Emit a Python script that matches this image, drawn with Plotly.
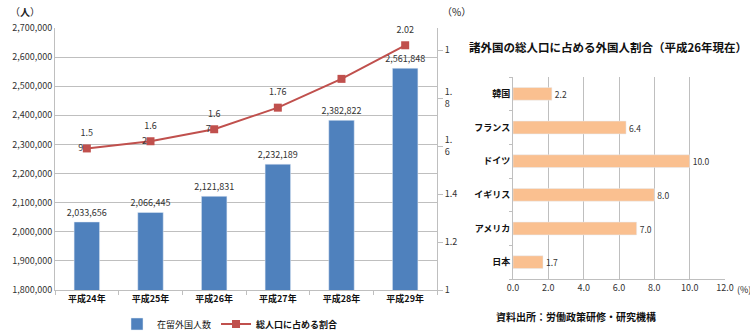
import plotly.graph_objects as go

years = ["平成24年", "平成25年", "平成26年", "平成27年", "平成28年", "平成29年"]
residents = [2033656, 2066445, 2121831, 2232189, 2382822, 2561848]
ratio = [1.59, 1.62, 1.67, 1.76, 1.88, 2.02]
ratio_top_labels = ["1.5", "1.6", "1.6", "1.76", "", "2.02"]
ratio_side_labels = ["9", "2", "7", "", "", ""]
left_ticks = [1800000 + 100000 * i for i in range(10)]
right_tickvals = [1.0, 1.2, 1.4, 1.6, 1.8, 2.0]
right_ticktext = ["1", "1.2", "1.4", "1.<br>6", "1.<br>8", "1"]

countries = ["韓国", "フランス", "ドイツ", "イギリス", "アメリカ", "日本"]
foreign_share = [2.2, 6.4, 10.0, 8.0, 7.0, 1.7]

FONT = "Noto Sans CJK JP"
BLUE = "#4F81BD"
RED = "#C0504D"
ORANGE = "#FAC090"
GRID = "#BFBFBF"

fig = go.Figure()

fig.add_trace(go.Bar(
    x=years, y=residents, name="在留外国人数", marker_color=BLUE, width=0.4,
    text=[f"{v:,}" for v in residents], textposition="outside", cliponaxis=False,
    constraintext="none",
    textfont=dict(size=9, color="#333333", family=FONT),
    xaxis="x", yaxis="y", showlegend=True))

fig.add_trace(go.Scatter(
    x=years, y=ratio, name="<b>総人口に占める割合</b>", mode="lines+markers",
    line=dict(color=RED, width=2), marker=dict(symbol="square", size=8, color=RED),
    xaxis="x", yaxis="y2", cliponaxis=False))

fig.add_trace(go.Scatter(
    x=years, y=ratio, mode="markers+text", text=ratio_side_labels,
    textposition="middle left", marker=dict(size=4, opacity=0),
    textfont=dict(size=9, color="#333333", family=FONT),
    xaxis="x", yaxis="y2", showlegend=False, hoverinfo="skip", cliponaxis=False))

fig.add_trace(go.Scatter(
    x=years, y=ratio, mode="markers+text", text=ratio_top_labels,
    textposition="top center", marker=dict(size=15, opacity=0),
    textfont=dict(size=9, color="#333333", family=FONT),
    xaxis="x", yaxis="y2", showlegend=False, hoverinfo="skip", cliponaxis=False))

fig.add_trace(go.Bar(
    x=foreign_share, y=countries, orientation="h", marker_color=ORANGE, width=0.38,
    text=[f"{v:.1f}" for v in foreign_share], textposition="outside", cliponaxis=False,
    constraintext="none",
    textfont=dict(size=8.5, color="#333333", family=FONT),
    xaxis="x3", yaxis="y3", showlegend=False))

fig.update_layout(
    width=750, height=331, margin=dict(l=0, r=0, t=0, b=0, autoexpand=False),
    paper_bgcolor="white", plot_bgcolor="white",
    font=dict(family=FONT, size=9, color="#222222"),
    xaxis=dict(domain=[55/750, 437/750], type="category",
               tickvals=years, ticktext=[f"<b>{y}</b>" for y in years],
               tickfont=dict(size=9, color="#111111"), showline=True, linecolor=GRID,
               ticks="outside", ticklen=4, tickcolor=GRID, tickson="boundaries",
               showgrid=False, automargin=False),
    yaxis=dict(domain=[41/331, 303/331], range=[1800000, 2700000],
               tickvals=left_ticks, tickformat=",d", showgrid=True, gridcolor=GRID,
               showline=True, linecolor=GRID, ticks="", tickfont=dict(size=9, color="#333333"),
               zeroline=False, automargin=False),
    yaxis2=dict(overlaying="y", side="right", range=[1.0, 2.092],
                tickvals=right_tickvals, ticktext=right_ticktext, showgrid=False,
                showline=True, linecolor=GRID, ticks="outside", ticklen=5, tickcolor=GRID,
                tickfont=dict(size=9, color="#333333"), zeroline=False, automargin=False),
    xaxis3=dict(domain=[513/750, 725/750], range=[0, 12], dtick=2, tickformat=".1f",
                showgrid=True, gridcolor=GRID, showline=True, linecolor=GRID,
                ticks="", tickfont=dict(size=9, color="#333333"), zeroline=False,
                anchor="y3", automargin=False),
    yaxis3=dict(domain=[52/331, 254/331], anchor="x3", autorange="reversed",
                tickvals=countries, ticktext=[f"<b>{c}</b>" for c in countries],
                showline=True, linecolor=GRID, ticks="outside", ticklen=3, tickcolor=GRID,
                tickson="boundaries", showgrid=False,
                tickfont=dict(size=9, color="#111111"), automargin=False),
    legend=dict(orientation="h", x=117/750, y=7/331, xanchor="left", yanchor="middle",
                font=dict(size=9, color="#111111"), bgcolor="rgba(0,0,0,0)",
                itemwidth=30, tracegroupgap=0),
    annotations=[
        dict(text="（<b>人</b>）", x=8/750, y=1 - 11/331, xref="paper", yref="paper", showarrow=False,
             xanchor="left", yanchor="middle", font=dict(size=10, color="#222222")),
        dict(text="（%）", x=440/750, y=1 - 11/331, xref="paper", yref="paper", showarrow=False,
             xanchor="left", yanchor="middle", font=dict(size=10, color="#222222")),
        dict(text="<b>諸外国の総人口に占める外国人割合（平成26年現在）</b>", x=749/750,
             y=1 - 47/331, xref="paper", yref="paper", showarrow=False, xanchor="right",
             yanchor="middle", font=dict(size=11.5, color="#111111")),
        dict(text="(%)", x=735/750, y=1 - 289/331, xref="paper", yref="paper", showarrow=False,
             xanchor="left", yanchor="middle", font=dict(size=9, color="#222222")),
        dict(text="<b>資料出所：労働政策研修・研究機構</b>", x=494/750, y=1 - 316/331,
             xref="paper", yref="paper", showarrow=False, xanchor="left", yanchor="middle",
             font=dict(size=10, color="#111111")),
    ],
)

fig.write_html("out.html")
